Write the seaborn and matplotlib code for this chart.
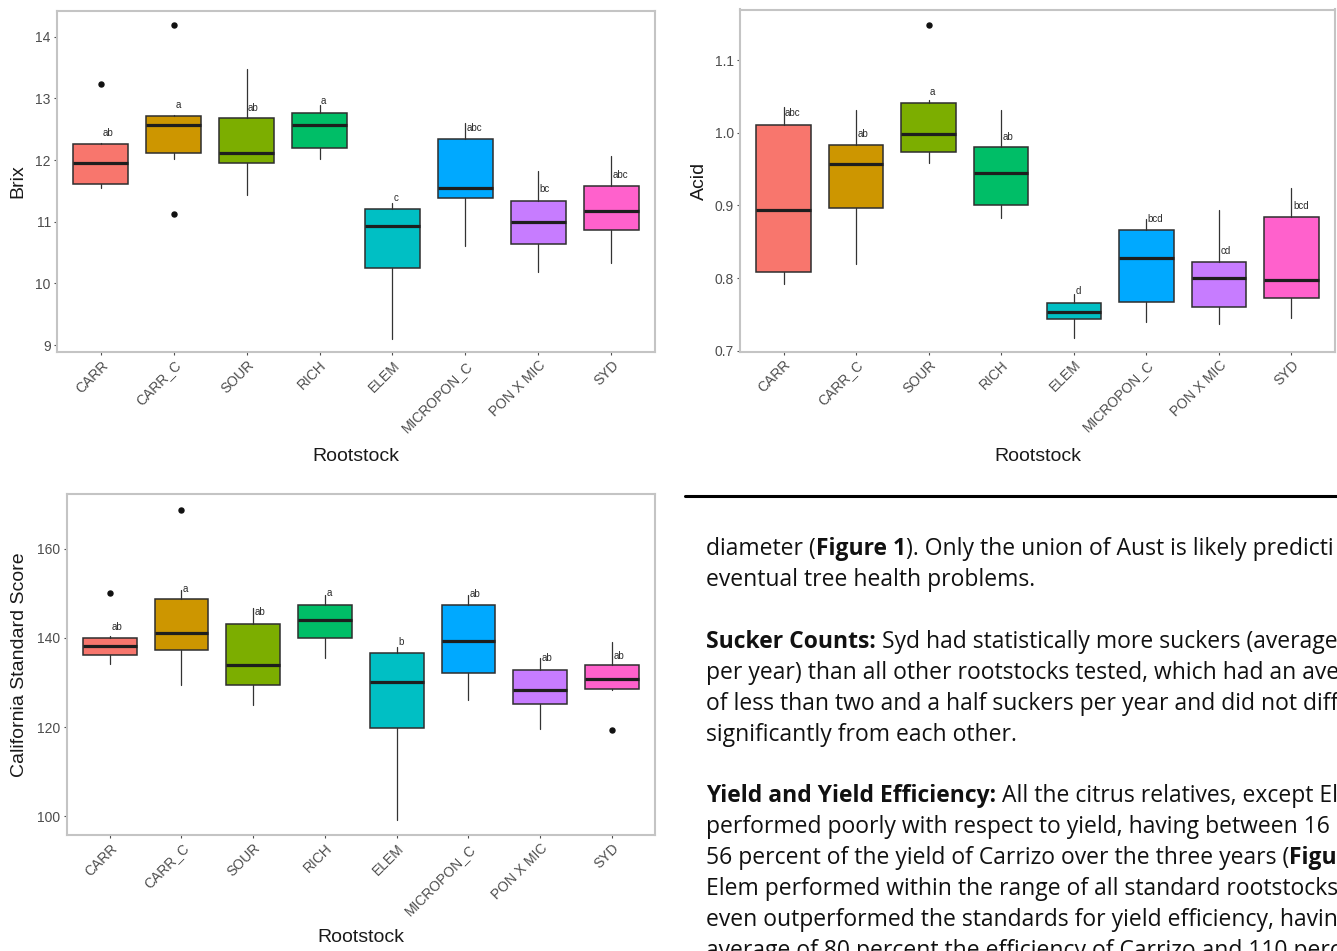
import numpy as np
import matplotlib
matplotlib.use("Agg")
import matplotlib.pyplot as plt
from matplotlib.lines import Line2D
import seaborn as sns

# ---------------------------------------------------------------- data
rootstocks = ["CARR", "CARR_C", "SOUR", "RICH", "ELEM", "MICROPON_C", "PON X MIC", "SYD"]
box_colors = ["#F8766D", "#CD9600", "#7CAE00", "#00BE67",
              "#00BFC4", "#00A9FF", "#C77CFF", "#FF61CC"]

# Brix
brix_lo = [11.55, 12.02, 11.43, 12.02, 9.10, 10.60, 10.18, 10.33]
brix_q1 = [11.62, 12.11, 11.95, 12.20, 10.25, 11.39, 10.64, 10.86]
brix_med = [11.95, 12.56, 12.11, 12.57, 10.93, 11.54, 10.99, 11.18]
brix_q3 = [12.26, 12.72, 12.68, 12.77, 11.21, 12.34, 11.33, 11.58]
brix_hi = [12.27, 12.73, 13.47, 12.89, 11.30, 12.60, 11.82, 12.07]
brix_out = [[13.24], [14.19, 11.12], [], [], [], [], [], []]
brix_letters = ["ab", "a", "ab", "a", "c", "abc", "bc", "abc"]
brix_letter_y = [12.44, 12.89, 12.85, 12.96, 11.39, 12.52, 11.53, 11.76]
brix_ticks = [9, 10, 11, 12, 13, 14]

# Acid
acid_lo = [0.792, 0.820, 0.959, 0.883, 0.717, 0.740, 0.737, 0.745]
acid_q1 = [0.809, 0.897, 0.974, 0.900, 0.743, 0.767, 0.760, 0.772]
acid_med = [0.894, 0.957, 0.998, 0.945, 0.753, 0.827, 0.800, 0.797]
acid_q3 = [1.011, 0.983, 1.041, 0.980, 0.765, 0.866, 0.822, 0.884]
acid_hi = [1.035, 1.031, 1.046, 1.031, 0.778, 0.881, 0.894, 0.924]
acid_out = [[], [], [1.148], [], [], [], [], []]
acid_letters = ["abc", "ab", "a", "ab", "d", "bcd", "cd", "bcd"]
acid_letter_y = [1.027, 0.999, 1.057, 0.994, 0.782, 0.882, 0.838, 0.899]
acid_ticks = [0.7, 0.8, 0.9, 1.0, 1.1]

# California Standard Score
score_lo = [134.1, 129.4, 124.9, 135.5, 99.1, 126.0, 119.5, 128.3]
score_q1 = [136.1, 137.2, 129.4, 140.1, 119.8, 132.2, 125.2, 128.6]
score_med = [138.2, 141.1, 133.9, 144.1, 130.1, 139.3, 128.3, 130.7]
score_q3 = [139.9, 148.7, 143.2, 147.5, 136.6, 147.4, 132.9, 133.9]
score_hi = [140.4, 150.7, 146.8, 149.7, 138.0, 149.6, 135.4, 139.1]
score_out = [[150.1], [168.8], [], [], [], [], [], [119.3]]
score_letters = ["ab", "a", "ab", "a", "b", "ab", "ab", "ab"]
score_letter_y = [142.4, 151.0, 145.8, 150.0, 139.1, 149.9, 135.4, 136.0]
score_ticks = [100, 120, 140, 160]

# ---------------------------------------------------------------- style
sns.set_theme(style="ticks")
plt.rcParams["font.family"] = ["Liberation Sans", "DejaVu Sans"]

W, H = 1337, 951
fig = plt.figure(figsize=(W / 100, H / 100), dpi=100)
fig.patch.set_facecolor("white")


def px_axes(left, top, right, bottom):
    return fig.add_axes([left / W, 1 - bottom / H, (right - left) / W, (bottom - top) / H])


def draw_panel(ax, lo, q1, med, q3, hi, out, letters, letter_y,
               ylabel, ylim, yticks, fmt, ylab_x, xlab_y):
    stats = [dict(whislo=a, q1=b, med=c, q3=d, whishi=e, fliers=f, label=n)
             for a, b, c, d, e, f, n in zip(lo, q1, med, q3, hi, out, rootstocks)]
    pos = np.arange(len(rootstocks))
    bp = ax.bxp(stats, positions=pos, widths=0.75, patch_artist=True,
                showcaps=False, showfliers=True,
                boxprops=dict(edgecolor="#2e2e2e", linewidth=1.1),
                medianprops=dict(color="#1e1e1e", linewidth=2.3,
                                 solid_capstyle="butt"),
                whiskerprops=dict(color="#333333", linewidth=0.9),
                flierprops=dict(marker="o", markerfacecolor="#111111",
                                markeredgecolor="#111111", markersize=3.6))
    for patch, col in zip(bp["boxes"], box_colors):
        patch.set_facecolor(col)
    for i, (lab, y) in enumerate(zip(letters, letter_y)):
        ax.text(i + 0.02, y, lab, ha="left", va="center", fontsize=7,
                color="#2a2a2a")

    ax.set_xlim(-0.6, len(rootstocks) - 0.4)
    ax.set_ylim(*ylim)
    ax.set_xticks(pos)
    ax.set_xticklabels(rootstocks, rotation=45, ha="right",
                       rotation_mode="anchor")
    ax.set_yticks(yticks)
    ax.set_yticklabels([fmt.format(t) for t in yticks])
    ax.tick_params(axis="both", direction="out", length=2.5, width=0.8,
                   color="#4d4d4d", labelsize=10, labelcolor="#4d4d4d",
                   pad=2)
    for sp in ax.spines.values():
        sp.set_visible(True)
        sp.set_color("#c4c4c4")
        sp.set_linewidth(1.5)
    ax.set_facecolor("white")
    ax.grid(False)
    ax.set_xlabel("Rootstock", fontsize=14, color="#1a1a1a")
    ax.set_ylabel(ylabel, fontsize=14, color="#1a1a1a")
    ax.xaxis.set_label_coords(0.5, xlab_y)
    ax.xaxis.label.set_va("center")
    ax.yaxis.set_label_coords(ylab_x, 0.5)
    ax.yaxis.label.set_va("center")


# Brix panel
ax1 = px_axes(57, 10.7, 655, 352)
draw_panel(ax1, brix_lo, brix_q1, brix_med, brix_q3, brix_hi, brix_out,
           brix_letters, brix_letter_y, "Brix", (8.89, 14.42), brix_ticks,
           "{:g}", (18 - 57) / 598, -(457 - 352) / 341.3)

# Acid panel
ax2 = px_axes(740, 9.5, 1335, 351.7)
draw_panel(ax2, acid_lo, acid_q1, acid_med, acid_q3, acid_hi, acid_out,
           acid_letters, acid_letter_y, "Acid", (0.6986, 1.170), acid_ticks,
           "{:.1f}", (699 - 740) / 595, -(456 - 351.7) / 342.2)

# California Standard Score panel
ax3 = px_axes(66.7, 494, 655, 835)
draw_panel(ax3, score_lo, score_q1, score_med, score_q3, score_hi, score_out,
           score_letters, score_letter_y, "California Standard Score",
           (95.8, 172.3), score_ticks, "{:g}", (19 - 66.7) / 588.3,
           -(938 - 835) / 341)

# ---------------------------------------------------------------- body text
fig.add_artist(Line2D([685 / W, 1.0], [1 - 495.7 / H] * 2, color="black",
                      linewidth=2.2, transform=fig.transFigure))

text_font = ["Open Sans", "DejaVu Sans"]
paragraph = [
    [("diameter (", False), ("Figure 1", True),
     ("). Only the union of Aust is likely predicti", False)],
    [("eventual tree health problems.", False)],
    None,
    [("Sucker Counts:", True),
     (" Syd had statistically more suckers (average", False)],
    [("per year) than all other rootstocks tested, which had an ave", False)],
    [("of less than two and a half suckers per year and did not diffe", False)],
    [("significantly from each other.", False)],
    None,
    [("Yield and Yield Efficiency:", True),
     (" All the citrus relatives, except El", False)],
    [("performed poorly with respect to yield, having between 16", False)],
    [("56 percent of the yield of Carrizo over the three years (", False),
     ("Figu", True)],
    [("Elem performed within the range of all standard rootstocks", False)],
    [("even outperformed the standards for yield efficiency, havin", False)],
    [("average of 80 percent the efficiency of Carrizo and 110 perce", False)],
]

renderer = fig.canvas.get_renderer()


def text_width(s, size, bold):
    t = fig.text(0, 0, s, fontsize=size, family=text_font,
                 fontweight="bold" if bold else "normal")
    w = t.get_window_extent(renderer).width
    t.remove()
    return w


# size the body font so a reference line spans its measured width
ref_w = text_width("eventual tree health problems.", 10, False)
body_size = 10 * 328.0 / ref_w
size_px = body_size * 100 / 72


def space_width(bold):
    return (text_width("x x", body_size, bold)
            - text_width("xx", body_size, bold))


x0 = 706.0
first_center = 547.0
pitch = 30.9
for k, line in enumerate(paragraph):
    if line is None:
        continue
    y_base = first_center + k * pitch + 0.36 * size_px
    x = x0
    for seg, bold in line:
        lead = len(seg) - len(seg.lstrip(" "))
        trail = len(seg) - len(seg.rstrip(" "))
        sw = space_width(bold)
        x += lead * sw
        core = seg.strip(" ")
        t = fig.text(x / W, 1 - y_base / H, core, fontsize=body_size,
                     family=text_font, fontweight="bold" if bold else "normal",
                     color="#111111", ha="left", va="baseline")
        x += t.get_window_extent(renderer).width + trail * sw

fig.savefig("out.png", dpi=100, facecolor="white")
